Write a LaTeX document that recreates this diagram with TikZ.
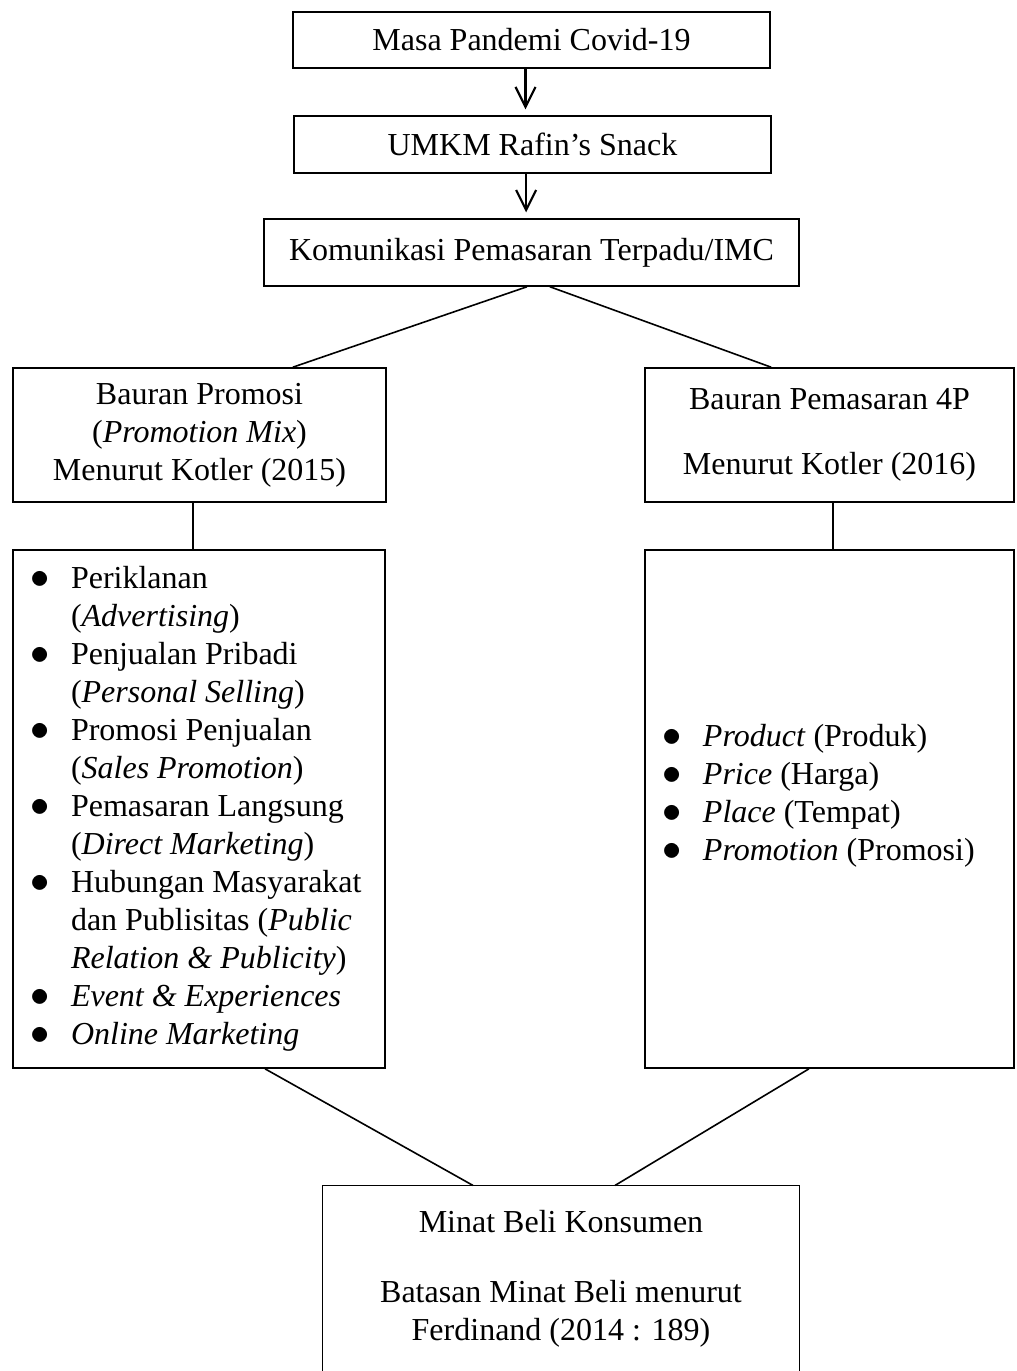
\documentclass[tikz,border=0pt]{standalone}
\usepackage{fontspec}
\setmainfont{Liberation Serif}
\usetikzlibrary{arrows.meta}
\newcommand{\bitem}{\makebox[21.75pt][l]{\hspace{6.4pt}{\fontsize{14.5pt}{14.25pt}\selectfont$\bullet$}}}
\newcommand{\bcont}{\hspace*{21.75pt}}
\begin{document}
\begin{tikzpicture}[x=0.375pt, y=-0.375pt,
        font=\fontsize{12pt}{14.25pt}\selectfont,
        box/.style={draw, line width=0.6pt, inner sep=0pt, align=center},
        listbox/.style={draw, line width=0.6pt, inner sep=0pt, align=flush left, minimum height=194.25pt},
        link/.style={line width=0.6pt},
        arr/.style={line width=0.8pt, -{Straight Barb[length=7.5pt,width=7.5pt]}, shorten >=2.2pt}]
            \useasboundingbox (0,0) rectangle (1016,1371);
            \node[box, minimum width=178.9pt, minimum height=21pt] (masa) at (531.5,40) {Masa Pandemi Covid-19};
            \node[box, minimum width=178.9pt, minimum height=21.4pt] (umkm) at (532.5,144.5) {UMKM Rafin’s Snack};
            \node[box, minimum width=200.6pt, minimum height=25.1pt] (imc) at (531.5,252.5) {Komunikasi Pemasaran Terpadu/IMC};
            \node[box, minimum width=139.9pt, minimum height=50.25pt] (promo) at (199.5,435) {Bauran Promosi\\(\textit{Promotion Mix})\\Menurut Kotler (2015)};
            \node[box, minimum width=138.4pt, minimum height=50.25pt] (pemasaran) at (829.5,435) {Bauran Pemasaran 4P\\[10pt]Menurut Kotler (2016)};
            \node[listbox, text width=139.5pt] (promolist) at (199,809) {%
                \bitem Periklanan\\
                \bcont(\textit{Advertising})\\
                \bitem Penjualan Pribadi\\
                \bcont(\textit{Personal Selling})\\
                \bitem Promosi Penjualan\\
                \bcont(\textit{Sales Promotion})\\
                \bitem Pemasaran Langsung\\
                \bcont(\textit{Direct Marketing})\\
                \bitem Hubungan Masyarakat\\
                \bcont dan Publisitas (\textit{Public}\\
                \bcont\textit{Relation \& Publicity})\\
                \bitem\textit{Event \& Experiences}\\
                \bitem\textit{Online Marketing}};
            \node[listbox, text width=138.4pt] (list4p) at (829.5,809) {%
                \bitem\textit{Product} (Produk)\\
                \bitem\textit{Price} (Harga)\\
                \bitem\textit{Place} (Tempat)\\
                \bitem\textit{Promotion} (Promosi)\\[-2pt]\mbox{}};
            \node[inner sep=0pt, align=center, minimum width=178.5pt, minimum height=69.4pt] (minat) at (561,1278.5) {Minat Beli Konsumen\\[12pt]Batasan Minat Beli menurut\\Ferdinand (2014 : 189)};
            \draw[link] (minat.south west) -- (minat.north west) -- (minat.north east) -- (minat.south east);
            \draw[arr] ([xshift=-2.25pt]masa.south) -- ([xshift=-2.25pt]masa.south |- umkm.north);
            \draw[arr] ([xshift=-2.4pt]umkm.south) -- ([xshift=-2.4pt]umkm.south |- imc.north);
            \draw[link] ([xshift=-1.7pt]imc.south) -- ([xshift=35pt]promo.north);
            \draw[link] ([xshift=6.9pt]imc.south) -- ([xshift=-21.9pt]pemasaran.north);
            \draw[link] ([xshift=-2.4pt]promo.south) -- ([xshift=-2.4pt]promo.south |- promolist.north);
            \draw[link] ([xshift=1.3pt]pemasaran.south) -- ([xshift=1.3pt]pemasaran.south |- list4p.north);
            \draw[link] ([xshift=24.75pt]promolist.south) -- ([xshift=-33pt]minat.north);
            \draw[link] ([xshift=-7.7pt]list4p.south) -- ([xshift=20.25pt]minat.north);
        \end{tikzpicture}
\end{document}
